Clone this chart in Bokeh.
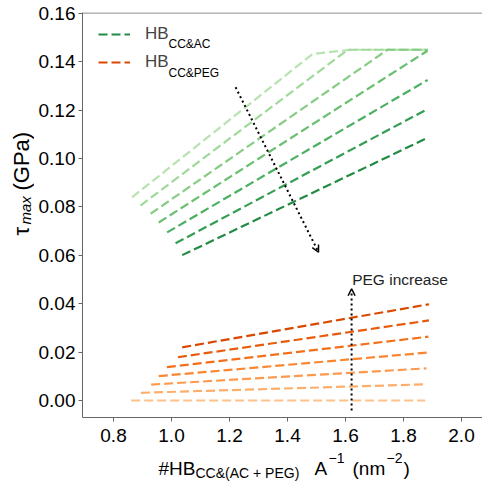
import numpy as np
from bokeh.plotting import figure
from bokeh.layouts import row, column
from bokeh.models import (Range1d, FixedTicker, Label, Arrow, OpenHead, Legend,
                          LegendItem, Span, NumeralTickFormatter)
from bokeh.embed import file_html
from bokeh.resources import INLINE

# ---------------- data ----------------
# HB CC&AC series (light -> dark)
ac_x = [
    [0.864, 1.486, 1.617, 1.883],
    [0.893, 1.608, 1.883],
    [0.928, 1.745, 1.883],
    [0.956, 1.883],
    [0.985, 1.883],
    [1.014, 1.883],
    [1.037, 1.883],
]
ac_y = [
    [0.0840, 0.1432, 0.1450, 0.1450],
    [0.0806, 0.1450, 0.1450],
    [0.0772, 0.1450, 0.1450],
    [0.0736, 0.1446],
    [0.0695, 0.1325],
    [0.0650, 0.1205],
    [0.0601, 0.1086],
]
# HB CC&PEG series (dark/top -> light/bottom)
peg_x = [
    [1.037, 1.888],
    [1.022, 1.888],
    [0.984, 1.886],
    [0.956, 1.882],
    [0.930, 1.879],
    [0.895, 1.875],
    [0.861, 1.875],
]
peg_y = [
    [0.0220, 0.0398],
    [0.0179, 0.0331],
    [0.0138, 0.0264],
    [0.0101, 0.0198],
    [0.0066, 0.0133],
    [0.0032, 0.0067],
    [0.0000, 0.0000],
]
ac_colors = ["#b8e3b1", "#a1d99b", "#86cc85", "#6abf71", "#4bb062", "#359e53", "#238b45"]
peg_colors = ["#d94801", "#e75c0c", "#f3701b", "#fb8630", "#fd9a4f", "#fdae6b", "#fdc28c"]

x_ticks = [0.8, 1.0, 1.2, 1.4, 1.6, 1.8, 2.0]
y_ticks = [0.00, 0.02, 0.04, 0.06, 0.08, 0.10, 0.12, 0.14, 0.16]

# annotation arrows (data coords): x_start, y_start, x_end, y_end
ac_arrow = [1.221, 0.1295, 1.507, 0.0613]
peg_arrow = [1.621, -0.0041, 1.621, 0.0462]

FONT = "Liberation Sans"

p = figure(width=448, height=450, output_backend="svg", toolbar_location=None,
           x_range=Range1d(0.6931, 2.0724), y_range=Range1d(-0.00702, 0.1604),
           min_border_left=48, min_border_right=0, min_border_top=12, min_border_bottom=33)
p.grid.visible = False
p.outline_line_color = None

for ax in (p.xaxis[0], p.yaxis[0]):
    ax.axis_line_color = "#666666"
    ax.major_tick_line_color = "#666666"
    ax.major_tick_in = 0
    ax.major_tick_out = 4
    ax.minor_tick_line_color = None
    ax.major_label_text_font = FONT
    ax.major_label_text_color = "black"
    ax.major_label_text_font_size = "19px"
p.xaxis.ticker = FixedTicker(ticks=x_ticks)
p.yaxis.ticker = FixedTicker(ticks=y_ticks)
p.xaxis.formatter = NumeralTickFormatter(format="0.0")
p.yaxis.formatter = NumeralTickFormatter(format="0.00")
p.xaxis.major_label_standoff = 7
p.yaxis.major_label_standoff = 3

p.add_layout(Span(location=0.1602, dimension="width", line_color="#666666", line_width=1))

ac_r = []
for xs, ys, c in zip(ac_x, ac_y, ac_colors):
    ac_r.append(p.line(xs, ys, line_color=c, line_width=2.2, line_dash="9 4"))
peg_r = []
for xs, ys, c in zip(peg_x, peg_y, peg_colors):
    peg_r.append(p.line(xs, ys, line_color=c, line_width=2.2, line_dash="9 4"))

for a in (ac_arrow, peg_arrow):
    p.add_layout(Arrow(x_start=a[0], y_start=a[1], x_end=a[2], y_end=a[3],
                       line_color="black", line_width=2, line_dash="2 3",
                       end=OpenHead(size=7, line_width=1.5, line_color="black")))

p.add_layout(Label(x=1.623, y=0.050, text="PEG increase", text_font=FONT,
                   text_font_size="15.5px", text_color="#222222", text_baseline="alphabetic"))

# legend (uses darkest AC line and darkest PEG line styles)
legend = Legend(items=[LegendItem(label="HB", renderers=[ac_r[-1]]),
                       LegendItem(label="HB", renderers=[peg_r[0]])],
                location=(16, 341), padding=0, margin=0, spacing=0,
                glyph_width=32, glyph_height=28, label_height=28, label_standoff=15,
                label_text_font=FONT, label_text_font_size="17px",
                background_fill_alpha=0, border_line_color=None)
p.add_layout(legend)


def lab(fig, x, y, text, size, angle=0.0, style="normal"):
    fig.add_layout(Label(x=x, y=y, x_units="screen", y_units="screen", text=text,
                         text_font=FONT, text_font_size=size, angle=angle,
                         text_font_style=style, text_color="black",
                         text_align="left", text_baseline="alphabetic"))


lab(p, 86, 374, "CC&AC", "12px")
lab(p, 86, 345, "CC&PEG", "12px")


def blank(w, h):
    f = figure(width=w, height=h, output_backend="svg", toolbar_location=None,
               x_axis_type=None, y_axis_type=None, x_range=Range1d(0, 1), y_range=Range1d(0, 1),
               min_border_left=0, min_border_right=0, min_border_top=0, min_border_bottom=0)
    f.grid.visible = False
    f.outline_line_color = None
    return f


# y-axis label panel
ylab = blank(34, 450)
lab(ylab, 21, 182, "τ", "22px", angle=np.pi / 2)
lab(ylab, 25, 193, "max", "15px", angle=np.pi / 2, style="italic")
lab(ylab, 21, 227, "(GPa)", "22px", angle=np.pi / 2)

# x-axis label panel
xlab = blank(482, 34)
lab(xlab, 158, 16, "#HB", "19px")
lab(xlab, 195, 12, "CC&(AC + PEG)", "14px")
lab(xlab, 314, 16, "A", "19px")
lab(xlab, 328, 27, "−1", "14px")
lab(xlab, 352, 16, "(nm", "19px")
lab(xlab, 386, 27, "−2", "14px")
lab(xlab, 403, 16, ")", "19px")

layout = column(row(ylab, p), xlab)
open("out.html", "w").write(file_html(layout, INLINE))
